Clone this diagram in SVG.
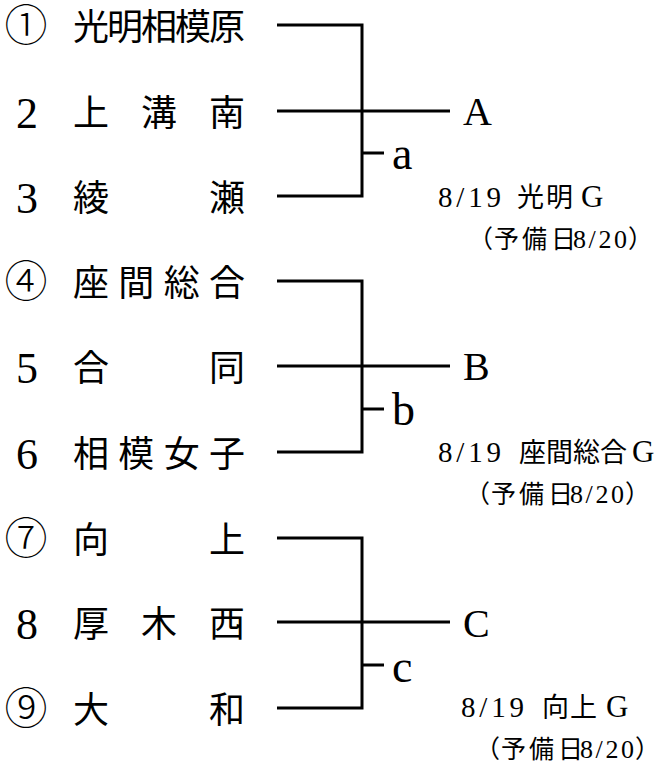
<svg xmlns="http://www.w3.org/2000/svg" width="664" height="765" viewBox="0 0 664 765">
<style>
.ln{stroke:#000;stroke-width:3;fill:none;stroke-linecap:butt;stroke-linejoin:miter}
.num{font-family:"Liberation Serif","Noto Sans CJK JP",serif;font-size:44px;fill:#000;text-anchor:middle}
.cnum{font-family:"Noto Sans CJK JP",sans-serif;font-size:43px;font-weight:300;fill:#000;text-anchor:middle}
.name{font-family:"Noto Sans CJK JP",sans-serif;font-size:36px;fill:#000}
.big{font-family:"Liberation Serif",serif;font-size:40px;fill:#000}
.low{font-family:"Liberation Serif",serif;font-size:46px;fill:#000}
.lat1{font-family:"Liberation Serif",serif;font-size:29px;fill:#000}
.g1{font-family:"Liberation Serif",serif;font-size:31px;fill:#000}
.cjk1{font-family:"Noto Sans CJK JP",sans-serif;font-size:27px;fill:#000}
.lat2{font-family:"Liberation Serif",serif;font-size:26px;fill:#000}
.cjk2{font-family:"Noto Sans CJK JP",sans-serif;font-size:25px;fill:#000}
</style>
<rect width="664" height="765" fill="#fff"/>
<g id="connectors">
<path class="ln" d="M277 25H362V196H277M277 111H450M362 153H384"/>
<path class="ln" d="M277 281H362V452H277M277 366H450M362 409H384"/>
<path class="ln" d="M277 538H362V708H277M277 622H450M362 665H384"/>
</g>
<g id="team1"><text class="cnum" x="26" y="41">①</text><text class="name" x="73 107 141 175 209" y="40">光明相模原</text></g>
<g id="team2"><text class="num" x="27" y="128">2</text><text class="name" x="73 141 209" y="125.5">上溝南</text></g>
<g id="team3"><text class="num" x="27" y="213">3</text><text class="name" x="73 209" y="210.5">綾瀬</text></g>
<g id="team4"><text class="cnum" x="26" y="297">④</text><text class="name" x="73 118.3 163.7 209" y="295.5">座間総合</text></g>
<g id="team5"><text class="num" x="27" y="383">5</text><text class="name" x="73 209" y="380.5">合同</text></g>
<g id="team6"><text class="num" x="27" y="469">6</text><text class="name" x="73 118.3 163.7 209" y="466.5">相模女子</text></g>
<g id="team7"><text class="cnum" x="26" y="554">⑦</text><text class="name" x="73 209" y="552.5">向上</text></g>
<g id="team8"><text class="num" x="27" y="639">8</text><text class="name" x="73 141 209" y="636.5">厚木西</text></g>
<g id="team9"><text class="cnum" x="26" y="724">⑨</text><text class="name" x="73 209" y="722.5">大和</text></g>
<g id="matchA">
<text class="big" x="463" y="125">A</text>
<text class="low" x="392" y="169">a</text>
<text class="lat1" x="438" y="207" textLength="63">8/19</text>
<text class="cjk1" x="517 546" y="207">光明</text>
<text class="g1" x="581" y="207">G</text>
<text class="cjk2" x="468 494 522 551" y="248">（予備日</text>
<text class="lat2" x="573" y="248" textLength="54">8/20</text>
<text class="cjk2" x="628" y="248">）</text>
</g>
<g id="matchB">
<text class="big" x="463" y="380">B</text>
<text class="low" x="392" y="425">b</text>
<text class="lat1" x="438" y="462" textLength="63">8/19</text>
<text class="cjk1" x="519 546 573 600" y="462">座間総合</text>
<text class="g1" x="632" y="462">G</text>
<text class="cjk2" x="465 491 519 548" y="503">（予備日</text>
<text class="lat2" x="570" y="503" textLength="54">8/20</text>
<text class="cjk2" x="625" y="503">）</text>
</g>
<g id="matchC">
<text class="big" x="463" y="637">C</text>
<text class="low" x="392" y="682">c</text>
<text class="lat1" x="461" y="717" textLength="63">8/19</text>
<text class="cjk1" x="542 570" y="717">向上</text>
<text class="g1" x="606" y="717">G</text>
<text class="cjk2" x="475 501 529 558" y="758">（予備日</text>
<text class="lat2" x="580" y="758" textLength="54">8/20</text>
<text class="cjk2" x="635" y="758">）</text>
</g>
</svg>
